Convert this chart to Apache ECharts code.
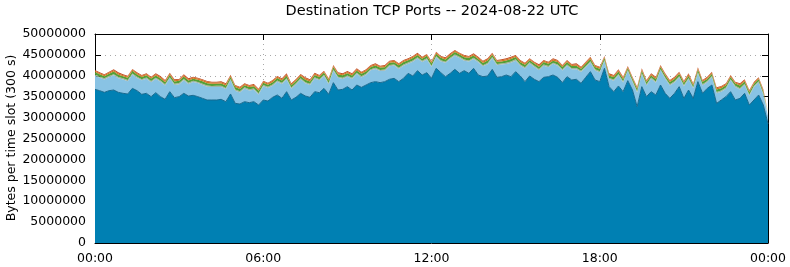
<!DOCTYPE html>
<html>
<head>
<meta charset="utf-8">
<script src="https://cdn.jsdelivr.net/npm/echarts@6/dist/echarts.min.js"></script>
<style>
html,body{margin:0;padding:0;background:#fff;}
#c{width:790px;height:267px;}
</style>
</head>
<body>
<div id="c"></div>
<script>
// Time slots every 10 minutes over the day (index i -> i*10 minutes)
const xTickLabels = ['00:00','06:00','12:00','18:00','00:00'];
const yTickMax = 50000000;

// Stack totals (millions of bytes per slot)
const totalM = [
41.39,40.83,40.35,40.99,41.55,40.83,40.35,40.03,41.63,40.83,
40.19,40.59,39.79,40.59,39.95,39.00,40.75,39.16,39.23,40.35,
39.39,39.79,39.55,39.16,38.76,38.60,38.60,38.68,38.20,40.27,
37.80,37.40,38.20,37.80,38.04,36.92,38.84,38.36,39.00,39.95,
39.39,40.59,38.20,39.23,40.43,39.63,39.16,40.75,40.19,41.23,
39.39,42.58,40.83,40.59,41.15,40.59,41.79,40.99,41.55,42.58,
42.98,42.42,42.58,43.62,43.78,42.98,43.78,44.18,44.74,45.53,
44.58,45.22,43.55,45.77,44.74,44.42,45.37,46.17,45.53,44.98,
44.74,45.37,44.58,43.62,44.18,45.53,43.78,43.94,44.18,44.58,
44.98,43.78,43.14,44.18,43.38,42.74,43.78,43.38,44.18,43.78,
42.58,43.78,42.82,42.98,42.18,43.38,44.58,42.58,42.18,44.74,
40.59,40.19,41.55,39.79,42.34,39.79,37.40,41.79,39.00,40.59,
39.79,42.58,40.59,39.00,39.79,40.99,38.84,40.59,38.20,42.03,
39.00,39.79,40.99,37.24,37.56,38.20,40.19,38.60,38.20,39.16,
36.60,38.60,39.63,36.76,31.40];

// Bottom (dark blue) layer, millions
const darkM = [
36.76,36.44,36.04,36.44,36.60,36.04,35.81,35.65,37.00,36.44,
35.57,35.81,35.01,35.96,35.01,34.37,36.20,34.77,35.01,35.81,
35.17,35.33,35.01,34.61,34.21,34.21,34.21,34.37,33.81,35.65,
33.41,33.25,33.81,33.57,33.81,33.01,34.21,33.97,34.85,35.41,
34.61,36.20,34.21,34.85,35.81,35.17,34.85,36.20,35.96,37.00,
35.57,38.36,36.60,36.76,37.40,36.60,37.80,37.24,37.80,38.36,
38.60,38.36,38.60,39.16,39.39,38.60,39.39,40.59,39.95,41.23,
40.19,40.75,39.39,41.79,40.75,39.79,40.59,41.55,40.59,41.23,
40.59,41.79,40.19,39.79,39.95,41.55,39.63,39.79,40.19,39.79,
40.99,39.95,38.60,39.95,39.16,38.60,39.63,39.79,40.19,39.63,
38.36,39.79,39.00,39.16,38.20,39.63,40.99,39.00,38.60,41.79,
37.40,36.20,37.56,36.20,38.84,36.60,32.62,37.40,35.01,36.20,
35.41,37.80,35.81,34.61,35.81,37.40,34.61,36.60,34.61,38.60,
35.81,37.00,37.80,33.41,34.21,35.01,36.20,34.21,34.61,35.81,
33.01,34.21,35.41,33.01,28.50];

// Thin upper layers, millions
const greyM = [
0.30,0.25,0.30,0.30,0.25,0.30,0.30,0.30,0.25,0.30,
0.25,0.30,0.30,0.25,0.30,0.30,0.25,0.30,0.30,0.30,
0.30,0.30,0.25,0.30,0.30,0.25,0.30,0.30,0.25,0.30,
0.25,0.30,0.30,0.30,0.25,0.30,0.30,0.25,0.30,0.30,
0.30,0.25,0.30,0.30,0.30,0.25,0.30,0.30,0.25,0.30,
0.30,0.30,0.25,0.30,0.30,0.30,0.25,0.30,0.30,0.25,
0.30,0.25,0.30,0.30,0.25,0.30,0.30,0.30,0.25,0.30,
0.30,0.30,0.25,0.30,0.30,0.25,0.30,0.30,0.30,0.25,
0.25,0.30,0.30,0.25,0.30,0.30,0.30,0.25,0.30,0.30,
0.30,0.25,0.30,0.30,0.25,0.30,0.30,0.30,0.25,0.30,
0.30,0.30,0.25,0.30,0.30,0.25,0.30,0.30,0.30,0.25,
0.25,0.30,0.30,0.30,0.25,0.30,0.30,0.25,0.30,0.30,
0.30,0.25,0.30,0.30,0.30,0.25,0.30,0.30,0.25,0.30,
0.30,0.30,0.25,0.30,0.30,0.30,0.25,0.30,0.30,0.25,
0.30,0.25,0.30,0.25,0.20];
const greenM = [
0.55,0.60,0.50,0.55,0.60,0.55,0.50,0.55,0.60,0.55,
0.50,0.55,0.60,0.55,0.55,0.50,0.60,0.55,0.55,0.60,
0.55,0.50,0.55,0.60,0.55,0.55,0.50,0.55,0.60,0.55,
0.60,0.55,0.50,0.55,0.55,0.60,0.55,0.50,0.55,0.60,
0.55,0.60,0.55,0.50,0.55,0.60,0.55,0.55,0.50,0.55,
0.60,0.55,0.55,0.60,0.50,0.55,0.55,0.60,0.55,0.50,
0.55,0.60,0.55,0.55,0.50,0.60,0.55,0.55,0.60,0.55,
0.50,0.55,0.60,0.55,0.55,0.50,0.55,0.60,0.55,0.55,
0.60,0.55,0.50,0.55,0.60,0.55,0.55,0.50,0.55,0.60,
0.55,0.55,0.60,0.50,0.55,0.55,0.60,0.55,0.50,0.55,
0.55,0.60,0.55,0.55,0.50,0.60,0.55,0.55,0.60,0.50,
0.55,0.55,0.60,0.55,0.50,0.55,0.60,0.55,0.55,0.50,
0.60,0.55,0.55,0.50,0.55,0.60,0.55,0.55,0.50,0.60,
0.55,0.50,0.55,0.60,0.55,0.55,0.50,0.55,0.60,0.55,
0.55,0.50,0.55,0.50,0.40];
const orangeM = [
0.30,0.25,0.30,0.30,0.35,0.30,0.25,0.30,0.30,0.30,
0.30,0.30,0.25,0.30,0.30,0.35,0.30,0.30,0.25,0.30,
0.25,0.30,0.30,0.30,0.35,0.30,0.30,0.25,0.30,0.30,
0.30,0.35,0.30,0.25,0.30,0.30,0.30,0.30,0.35,0.30,
0.30,0.30,0.25,0.30,0.30,0.35,0.30,0.30,0.30,0.25,
0.35,0.30,0.30,0.25,0.30,0.30,0.30,0.35,0.30,0.30,
0.30,0.25,0.30,0.30,0.35,0.30,0.30,0.25,0.30,0.30,
0.30,0.30,0.35,0.30,0.25,0.30,0.30,0.30,0.30,0.35,
0.25,0.30,0.30,0.35,0.30,0.30,0.25,0.30,0.30,0.30,
0.30,0.35,0.30,0.30,0.25,0.30,0.30,0.30,0.35,0.30,
0.30,0.30,0.25,0.30,0.30,0.30,0.35,0.30,0.30,0.25,
0.30,0.30,0.30,0.35,0.30,0.25,0.30,0.30,0.30,0.30,
0.35,0.30,0.25,0.30,0.30,0.30,0.30,0.35,0.30,0.30,
0.25,0.30,0.30,0.30,0.35,0.30,0.30,0.25,0.30,0.30,
0.30,0.30,0.25,0.30,0.25];
const redM = [
0.20,0.20,0.15,0.20,0.20,0.25,0.20,0.20,0.15,0.20,
0.20,0.15,0.20,0.20,0.25,0.20,0.20,0.20,0.15,0.20,
0.25,0.20,0.20,0.15,0.20,0.20,0.20,0.25,0.20,0.20,
0.20,0.20,0.15,0.20,0.25,0.20,0.20,0.20,0.20,0.15,
0.20,0.25,0.20,0.20,0.15,0.20,0.20,0.25,0.20,0.20,
0.15,0.20,0.20,0.20,0.25,0.20,0.20,0.15,0.20,0.20,
0.20,0.20,0.25,0.20,0.20,0.15,0.20,0.20,0.20,0.25,
0.20,0.15,0.20,0.20,0.20,0.25,0.20,0.20,0.15,0.20,
0.20,0.20,0.25,0.20,0.20,0.20,0.15,0.20,0.20,0.25,
0.20,0.20,0.20,0.15,0.20,0.25,0.20,0.20,0.20,0.20,
0.15,0.20,0.20,0.25,0.20,0.20,0.20,0.15,0.20,0.20,
0.25,0.20,0.20,0.20,0.15,0.20,0.20,0.25,0.20,0.20,
0.20,0.15,0.20,0.20,0.25,0.20,0.20,0.20,0.15,0.20,
0.20,0.25,0.20,0.20,0.20,0.15,0.20,0.20,0.25,0.20,
0.20,0.20,0.15,0.20,0.15];

const M = 1e6;
const pad = n => (n < 10 ? '0' : '') + n;
const slots = totalM.map((_, i) => pad(Math.floor(i * 10 / 60) % 24) + ':' + pad((i * 10) % 60));
const toBytes = arr => arr.map(v => Math.round(v * M));
const lightM = totalM.map((t, i) => +(t - darkM[i] - greyM[i] - greenM[i] - orangeM[i] - redM[i]).toFixed(3));

const FONT = 'DejaVu Sans';
const chart = echarts.init(document.getElementById('c'), null, {renderer: 'canvas'});

function layer(name, arr, fill, edge) {
  return {
    name, type: 'line', stack: 'all', data: toBytes(arr), showSymbol: false, symbol: 'none',
    smooth: false, lineStyle: {width: edge ? 1 : 0, color: edge || fill},
    areaStyle: {color: fill, opacity: 1}, itemStyle: {color: fill}, z: 2
  };
}

const gridLine = {show: true, interval: 35, lineStyle: {color: '#a8a8a8', type: [1, 4], width: 1}};
const frame = {show: true, onZero: false, lineStyle: {color: '#000', width: 1}};
const tickX = {show: true, inside: true, length: 6, interval: 35, lineStyle: {color: '#000'}};
const tickY = {show: true, inside: true, length: 6, lineStyle: {color: '#000'}};

chart.setOption({
  animation: false,
  backgroundColor: '#fff',
  grid: {left: 95, right: 22, top: 34, bottom: 24, containLabel: false},
  xAxis: [{
    type: 'category', data: slots, boundaryGap: false, position: 'bottom',
    axisLine: frame, axisTick: tickX,
    axisLabel: {color: '#000', fontFamily: FONT, fontSize: 12.5, margin: 9, interval: 35,
      formatter: (v, idx) => xTickLabels[Math.round(idx / 36)]},
    splitLine: gridLine
  }, {
    type: 'category', data: slots, boundaryGap: false, position: 'top',
    axisLine: frame, axisTick: tickX,
    axisLabel: {show: false}, splitLine: {show: false}
  }],
  yAxis: [{
    type: 'value', min: 0, max: yTickMax, interval: 5000000, position: 'left',
    axisLine: frame, axisTick: tickY,
    axisLabel: {color: '#000', fontFamily: FONT, fontSize: 12.5, margin: 9,
      formatter: v => String(v)},
    splitLine: {show: true, lineStyle: {color: '#a8a8a8', type: [1, 4], width: 1}}
  }, {
    type: 'value', min: 0, max: yTickMax, interval: 5000000, position: 'right',
    axisLine: frame, axisTick: tickY,
    axisLabel: {show: false}, splitLine: {show: false}
  }],
  graphic: [
    {type: 'text', x: 432, y: 11, style: {
      text: 'Destination TCP Ports -- 2024-08-22 UTC', fill: '#000',
      font: '14.5px "DejaVu Sans"', textAlign: 'center', textVerticalAlign: 'middle'}},
    {type: 'text', x: 12, y: 138, rotation: Math.PI / 2, style: {
      text: 'Bytes per time slot (300 s)', fill: '#000',
      font: '12.5px "DejaVu Sans"', textAlign: 'center', textVerticalAlign: 'middle'}}
  ],
  series: [
    layer('dark', darkM, '#0080b3', '#16698f'),
    layer('light', lightM, '#89c3e4', null),
    layer('grey', greyM, '#9fb3a6', null),
    layer('green', greenM, '#559f35', null),
    layer('orange', orangeM, '#d3781f', null),
    layer('red', redM, '#c2491d', null)
  ]
});
</script>
</body>
</html>
